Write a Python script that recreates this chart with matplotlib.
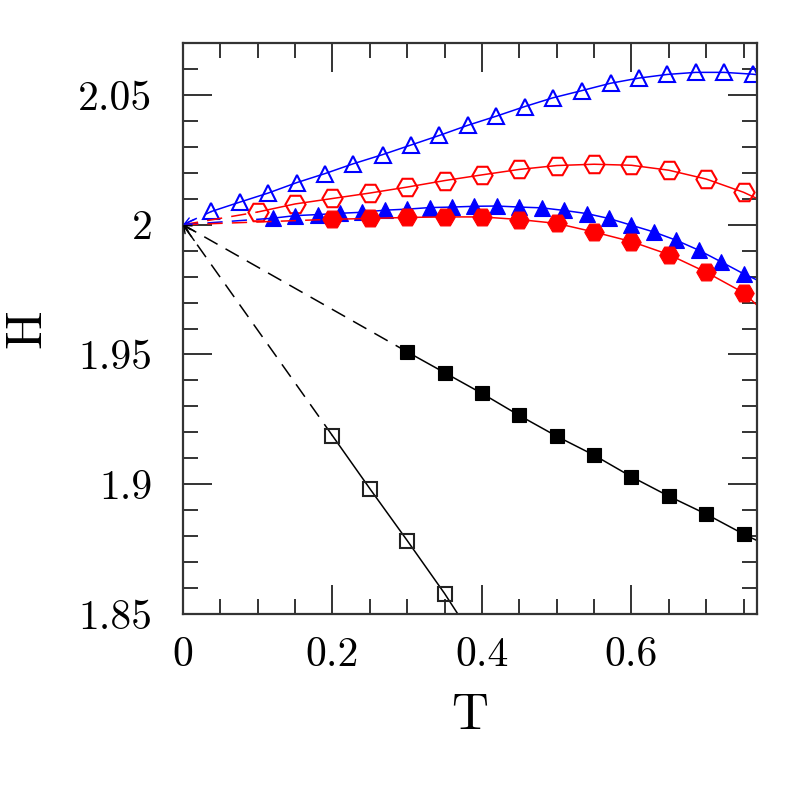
import matplotlib
matplotlib.use("Agg")
import matplotlib.pyplot as plt
from matplotlib.ticker import FixedLocator, MultipleLocator

plt.rcParams['font.family'] = ['cmr10', 'DejaVu Serif']
plt.rcParams['axes.formatter.use_mathtext'] = True

# ---- data ----
T_open_tri = [0.038, 0.076, 0.114, 0.152, 0.190, 0.228, 0.267, 0.305, 0.343, 0.381,
              0.419, 0.457, 0.495, 0.534, 0.572, 0.610, 0.648, 0.686, 0.724, 0.762]
H_open_tri = [2.0051, 2.0087, 2.0122, 2.0162, 2.0197, 2.0235, 2.0270, 2.0307, 2.0344, 2.0383,
              2.0418, 2.0455, 2.0489, 2.0517, 2.0545, 2.0565, 2.0579, 2.0587, 2.0587, 2.0580]

T_fill_tri = [0.12, 0.15, 0.18, 0.21, 0.24, 0.27, 0.30, 0.33, 0.36, 0.39, 0.42,
              0.45, 0.48, 0.51, 0.54, 0.57, 0.60, 0.63, 0.66, 0.69, 0.72, 0.75]
H_fill_tri = [2.0025, 2.0035, 2.0039, 2.0044, 2.0048, 2.0056, 2.0060, 2.0066, 2.0068, 2.0071, 2.0072,
              2.0068, 2.0065, 2.0055, 2.0043, 2.0024, 1.9998, 1.9972, 1.9940, 1.9902, 1.9857, 1.9811]

T_open_hex = [0.10, 0.15, 0.20, 0.25, 0.30, 0.35, 0.40, 0.45, 0.50, 0.55, 0.60, 0.65, 0.70, 0.75]
H_open_hex = [2.0049, 2.0080, 2.0101, 2.0122, 2.0145, 2.0170, 2.0192, 2.0213, 2.0228, 2.0233,
              2.0229, 2.0210, 2.0176, 2.0125]

T_fill_hex = [0.20, 0.25, 0.30, 0.35, 0.40, 0.45, 0.50, 0.55, 0.60, 0.65, 0.70, 0.75]
H_fill_hex = [2.0021, 2.0024, 2.0028, 2.0030, 2.0030, 2.0020, 2.0005, 1.9972, 1.9935, 1.9885,
              1.9817, 1.9738]

T_fill_sq = [0.30, 0.35, 0.40, 0.45, 0.50, 0.55, 0.60, 0.65, 0.70, 0.75]
H_fill_sq = [1.9510, 1.9430, 1.9350, 1.9265, 1.9185, 1.9112, 1.9029, 1.8954, 1.8885, 1.8808]

T_open_sq = [0.20, 0.25, 0.30, 0.35]
H_open_sq = [1.9187, 1.8983, 1.8783, 1.8579]

# where the fitted curves leave the frame
T_edge = 0.768
H_edge_open_tri = 2.0578
H_edge_fill_tri = 1.9787
H_edge_open_hex = 2.0101
H_edge_fill_hex = 1.9690
H_edge_fill_sq = 1.8783
T_end_open_sq, H_end_open_sq = 0.37, 1.8490

T0, H0 = 0.0, 2.0

x_ticks = [0.0, 0.2, 0.4, 0.6]
x_labels = ["0", "0.2", "0.4", "0.6"]
y_ticks = [1.85, 1.90, 1.95, 2.00, 2.05]
y_labels = ["1.85", "1.9", "1.95", "2", "2.05"]

# ---- figure ----
fig = plt.figure(figsize=(7.97, 7.97), dpi=100)
ax = fig.add_axes([0.2296, 0.2296, 0.9498 - 0.2296, 0.946 - 0.2296])
ax.set_xlim(0, T_edge)
ax.set_ylim(1.85, 2.07)

BLUE = (0, 0, 1)
RED = (1, 0, 0)
lw = 1.1
dash = (0, (10, 6))

series = [
    (T_open_tri, H_open_tri, H_edge_open_tri, BLUE, '^', 11.5, False),
    (T_open_hex, H_open_hex, H_edge_open_hex, RED, 'H', 14.5, False),
    (T_fill_tri, H_fill_tri, H_edge_fill_tri, BLUE, '^', 11.5, True),
    (T_fill_hex, H_fill_hex, H_edge_fill_hex, RED, 'H', 14.0, True),
    (T_fill_sq, H_fill_sq, H_edge_fill_sq, 'black', 's', 10.5, True),
]
for T, H, He, c, m, ms, filled in series:
    ax.plot([T0, T[0]], [H0, H[0]], color=c, lw=lw, linestyle=dash)
    ax.plot(list(T) + [T_edge], list(H) + [He], color=c, lw=lw)
    ax.plot(T, H, linestyle='none', marker=m, ms=ms,
            mfc=c if filled else 'none', mec=c, mew=1.5 if not filled else 0.8)

# open squares
ax.plot([T0, T_open_sq[0]], [H0, H_open_sq[0]], color='black', lw=lw, linestyle=dash)
ax.plot(list(T_open_sq) + [T_end_open_sq], list(H_open_sq) + [H_end_open_sq], color='black', lw=lw)
ax.plot(T_open_sq, H_open_sq, linestyle='none', marker='s', ms=10.5, mfc='none', mec='#222222', mew=1.5)

# small arrow heads at the origin on the dashed lines
frac = 0.06
for T, H, c in [(T_fill_sq, H_fill_sq, 'black'), (T_open_sq, H_open_sq, 'black'),
                (T_open_tri, H_open_tri, BLUE)]:
    k = frac * 0.25 / T[0]
    ax.annotate('', xy=(T0, H0), xytext=(T0 + k * (T[0] - T0), H0 + k * (H[0] - H0)),
                arrowprops=dict(arrowstyle='->,head_length=0.5,head_width=0.25', color=c, lw=1.0,
                                shrinkA=0, shrinkB=0))

# axes styling
for s in ax.spines.values():
    s.set_linewidth(1.6)
    s.set_color('#333333')
ax.xaxis.set_major_locator(FixedLocator(x_ticks))
ax.set_xticklabels(x_labels)
ax.xaxis.set_minor_locator(MultipleLocator(0.05))
ax.yaxis.set_major_locator(FixedLocator(y_ticks))
ax.set_yticklabels(y_labels)
ax.yaxis.set_minor_locator(MultipleLocator(0.01))
ax.tick_params(which='both', direction='in', top=True, right=True, color='#333333')
ax.tick_params(which='major', length=21, width=1.4, labelsize=30)
ax.tick_params(axis='y', which='major', pad=22)
ax.tick_params(axis='x', which='major', pad=16)
ax.tick_params(which='minor', length=11, width=1.4)

ax.set_xlabel('T', fontsize=37, labelpad=14)
ax.set_ylabel('H', fontsize=37, labelpad=20)

fig.savefig('out.png', dpi=100)
